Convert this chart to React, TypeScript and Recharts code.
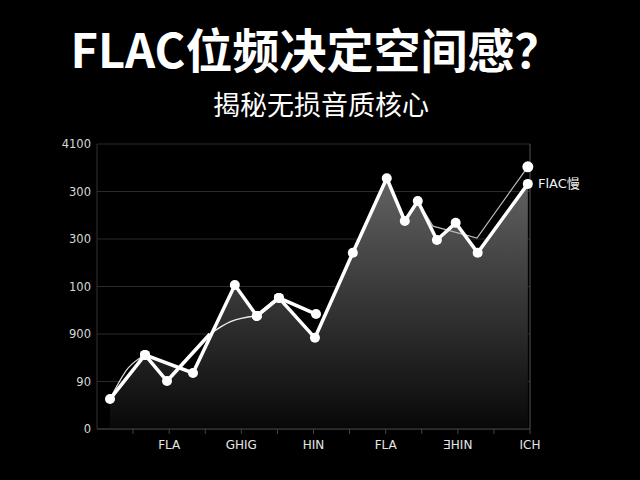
import { ComposedChart, Area, Line, XAxis, YAxis, CartesianGrid, ReferenceLine } from "recharts";

// main series (thick, filled)
const mainX = [0.36, 1.33, 2.66, 3.82, 4.43, 5.04, 6.04, 7.09, 8.03, 8.53, 8.89, 9.42, 9.94, 10.55, 11.94];
const mainY = [63, 156, 118, 303, 238, 276, 192, 371, 528, 438, 480, 398, 434, 371, 516];

// second thick branch
const branchX = [1.33, 1.94, 3.13];
const branchY = [156, 101, 200];
const branchDot = [true, true, false];

const branch2X = [4.43, 5.04, 6.07];
const branch2Y = [238, 276, 242];

// thin trend pieces
const thinLeftX = [0.36, 0.86, 1.33];
const thinLeftY = [63, 128, 156];
const thinMidX = [3.13, 3.7, 4.43];
const thinMidY = [200, 226, 238];
const thinRightX = [8.89, 9.31, 10.53, 11.94];
const thinRightY = [480, 427, 402, 552];

const xTicks = [1, 2, 3, 4, 5, 6, 7, 8, 9, 10, 11, 12];
const xLabels: Record<number, string> = { 2: "FLA", 4: "GHIG", 6: "HIN", 8: "FLA", 10: "ƎHIN", 12: "ICH" };
const yTicks = [0, 100, 200, 300, 400, 500, 600];
const yLabels = ["0", "90", "900", "100", "300", "300", "4100"];

const zip = (xs: number[], ys: number[]) => xs.map((x, i) => ({ x, y: ys[i] }));

const mainData = zip(mainX, mainY);
const branchData = branchX.map((x, i) => ({ x, y: branchY[i], dot: branchDot[i] }));
const branch2Data = zip(branch2X, branch2Y);
const thinLeft = zip(thinLeftX, thinLeftY);
const thinMid = zip(thinMidX, thinMidY);
const thinRight = zip(thinRightX, thinRightY);

const font = "'DejaVu Sans', 'Noto Sans', sans-serif";

export default function App() {
  return (
    <div
      style={{
        position: "fixed",
        left: 0,
        top: 0,
        width: 640,
        height: 480,
        background: "#000",
        overflow: "hidden",
        fontFamily: "'Noto Sans CJK SC', sans-serif",
        color: "#fff",
      }}
    >
      <div
        style={{
          position: "absolute",
          top: 16,
          left: 0,
          width: 632,
          textAlign: "center",
          fontSize: 47,
          fontWeight: 700,
          lineHeight: "64px",
        }}
      >
        FLAC位频决定空间感？
      </div>
      <div
        style={{
          position: "absolute",
          top: 85,
          left: 0,
          width: 642,
          textAlign: "center",
          fontSize: 27,
          lineHeight: "38px",
        }}
      >
        揭秘无损音质核心
      </div>
      <div style={{ position: "absolute", left: 0, top: 0 }}>
        <ComposedChart
          width={640}
          height={480}
          data={mainData}
          margin={{ top: 144, right: 110, bottom: 21, left: 57 }}
        >
          <defs>
            <linearGradient id="fillA" x1="0" y1="0" x2="0" y2="1">
              <stop offset="0%" stopColor="#626262" />
              <stop offset="100%" stopColor="#080808" />
            </linearGradient>
          </defs>
          <CartesianGrid vertical={false} stroke="#2a2a2a" />
          <XAxis
            type="number"
            dataKey="x"
            domain={[0, 12]}
            ticks={xTicks}
            tickFormatter={(v) => xLabels[v] ?? ""}
            stroke="#444"
            tickSize={5}
            tickMargin={6}
            height={30}
            tick={{ fill: "#e6e6e6", fontSize: 12, fontFamily: font }}
          />
          <YAxis
            type="number"
            domain={[0, 600]}
            ticks={yTicks}
            tickFormatter={(v) => yLabels[yTicks.indexOf(v)]}
            stroke="#333"
            tickLine={false}
            width={40}
            tickMargin={0}
            tick={{ fill: "#d8d8d8", fontSize: 11.5, fontFamily: font }}
          />
          <ReferenceLine x={12} stroke="#555" />
          <Area
            dataKey="y"
            type="linear"
            stroke="none"
            fill="url(#fillA)"
            fillOpacity={1}
            isAnimationActive={false}
          />
          <Line data={thinLeft} dataKey="y" type="monotone" stroke="#ddd" strokeWidth={1.2} dot={false} isAnimationActive={false} />
          <Line data={thinMid} dataKey="y" type="monotone" stroke="#eee" strokeWidth={1.5} dot={false} isAnimationActive={false} />
          <Line
            data={thinRight}
            dataKey="y"
            type="linear"
            stroke="#bbb"
            strokeWidth={1.2}
            dot={(p: any) =>
              p.index === thinRightX.length - 1 ? (
                <circle key={p.index} cx={p.cx} cy={p.cy} r={5.5} fill="#fff" />
              ) : (
                <g key={p.index} />
              )
            }
            isAnimationActive={false}
          />
          <Line
            data={branchData}
            dataKey="y"
            type="linear"
            stroke="#fff"
            strokeWidth={3.5}
            dot={(p: any) =>
              p.payload.dot ? <circle key={p.index} cx={p.cx} cy={p.cy} r={5} fill="#fff" /> : <g key={p.index} />
            }
            isAnimationActive={false}
          />
          <Line
            data={branch2Data}
            dataKey="y"
            type="linear"
            stroke="#fff"
            strokeWidth={3.5}
            dot={{ r: 5, fill: "#fff", stroke: "#fff", strokeWidth: 0 }}
            isAnimationActive={false}
          />
          <Line
            dataKey="y"
            type="linear"
            stroke="#fff"
            strokeWidth={3.5}
            dot={{ r: 5, fill: "#fff", stroke: "#fff", strokeWidth: 0 }}
            isAnimationActive={false}
          />
        </ComposedChart>
      </div>
      <div
        style={{
          position: "absolute",
          left: 538,
          top: 173,
          fontSize: 13,
          fontFamily: "'DejaVu Sans', 'Noto Sans CJK SC', sans-serif",
          color: "#f2f2f2",
        }}
      >
        FlAC慢
      </div>
    </div>
  );
}
